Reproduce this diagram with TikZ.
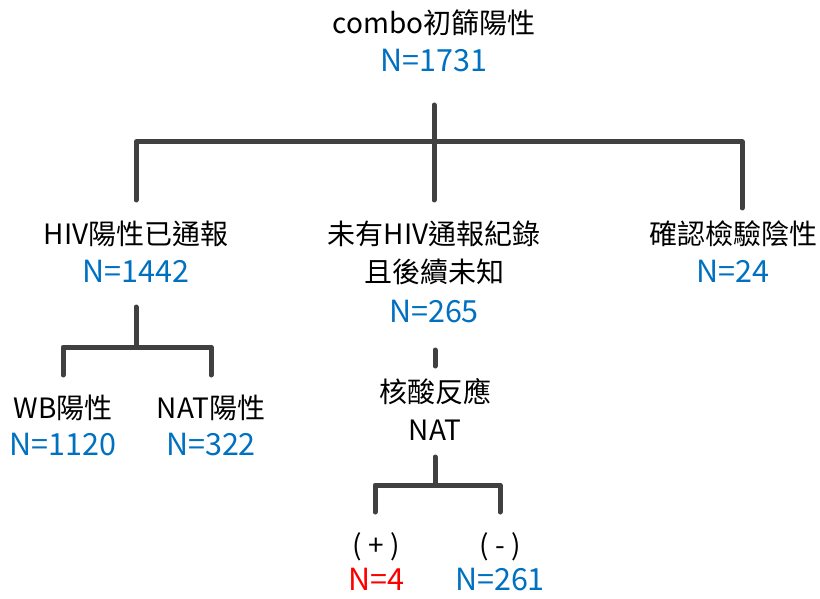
\documentclass[tikz,border=0pt]{standalone}
\usepackage{fontspec}
\setmainfont{Noto Sans CJK TC}
\definecolor{nblue}{HTML}{0070C0}
\definecolor{nred}{HTML}{FF0000}
\definecolor{lgray}{HTML}{404040}
\begin{document}
\begin{tikzpicture}[x=1pt,y=-1pt,
  lbl/.style={inner sep=0pt, text height=0.8em, text depth=0.2em, anchor=center, yshift=-6pt, font=\fontsize{28}{32}\selectfont, text=black},
  num/.style={lbl, font=\fontsize{30.5}{34}\selectfont, text=nblue},
  numred/.style={num, text=nred},
  tree/.style={draw=lgray, line width=5pt, line cap=round, line join=round}]
\useasboundingbox (0,0) rectangle (820,599);
% texts
\node[lbl] (title) at (434,25) {combo初篩陽性};
\node[num] (n1731) at (434,63) {N=1731};
\node[lbl] (hiv) at (136,235) {HIV陽性已通報};
\node[num] (n1442) at (136,273) {N=1442};
\node[lbl] (unk1) at (434,235) {未有HIV通報紀錄};
\node[lbl] (unk2) at (434,273) {且後續未知};
\node[num] (n265) at (434,313) {N=265};
\node[lbl] (neg) at (733,235) {確認檢驗陰性};
\node[num] (n24) at (733,273) {N=24};
\node[lbl] (wb) at (63,409) {WB陽性};
\node[num] (n1120) at (63,446) {N=1120};
\node[lbl] (nat) at (211,409) {NAT陽性};
\node[num] (n322) at (211,446) {N=322};
\node[lbl] (nuc) at (435,393) {核酸反應};
\node[lbl] (natl) at (435,431) {NAT};
\node[lbl] (pos) at (376,546) {( + )};
\node[numred] (n4) at (376,581) {N=4};
\node[lbl] (minus) at (500,546) {( - )};
\node[num] (n261) at (500,581) {N=261};
% tree coordinates
\coordinate (a0) at (434,105);
\coordinate (a1) at (434,142);
\coordinate (aL) at (136,142);
\coordinate (aR) at (742,142);
\coordinate (aLe) at (136,200);
\coordinate (aCe) at (434,200);
\coordinate (aRe) at (742,208);
\coordinate (b0) at (136,307);
\coordinate (b1) at (136,347);
\coordinate (bL) at (63,347);
\coordinate (bR) at (211,347);
\coordinate (bLe) at (63,375);
\coordinate (bRe) at (211,375);
\coordinate (c0) at (435,350);
\coordinate (c1) at (435,366);
\coordinate (d0) at (435,457);
\coordinate (d1) at (435,485);
\coordinate (dL) at (375,485);
\coordinate (dR) at (500,485);
\coordinate (dLe) at (375,512);
\coordinate (dRe) at (500,512);
% connectors
\draw[tree] (a0) -- (aCe);
\draw[tree] (aLe) -- (aL) -- (aR) -- (aRe);
\draw[tree] (b0) -- (b1);
\draw[tree] (bLe) -- (bL) -- (bR) -- (bRe);
\draw[tree] (c0) -- (c1);
\draw[tree] (d0) -- (d1);
\draw[tree] (dLe) -- (dL) -- (dR) -- (dRe);
\end{tikzpicture}
\end{document}
